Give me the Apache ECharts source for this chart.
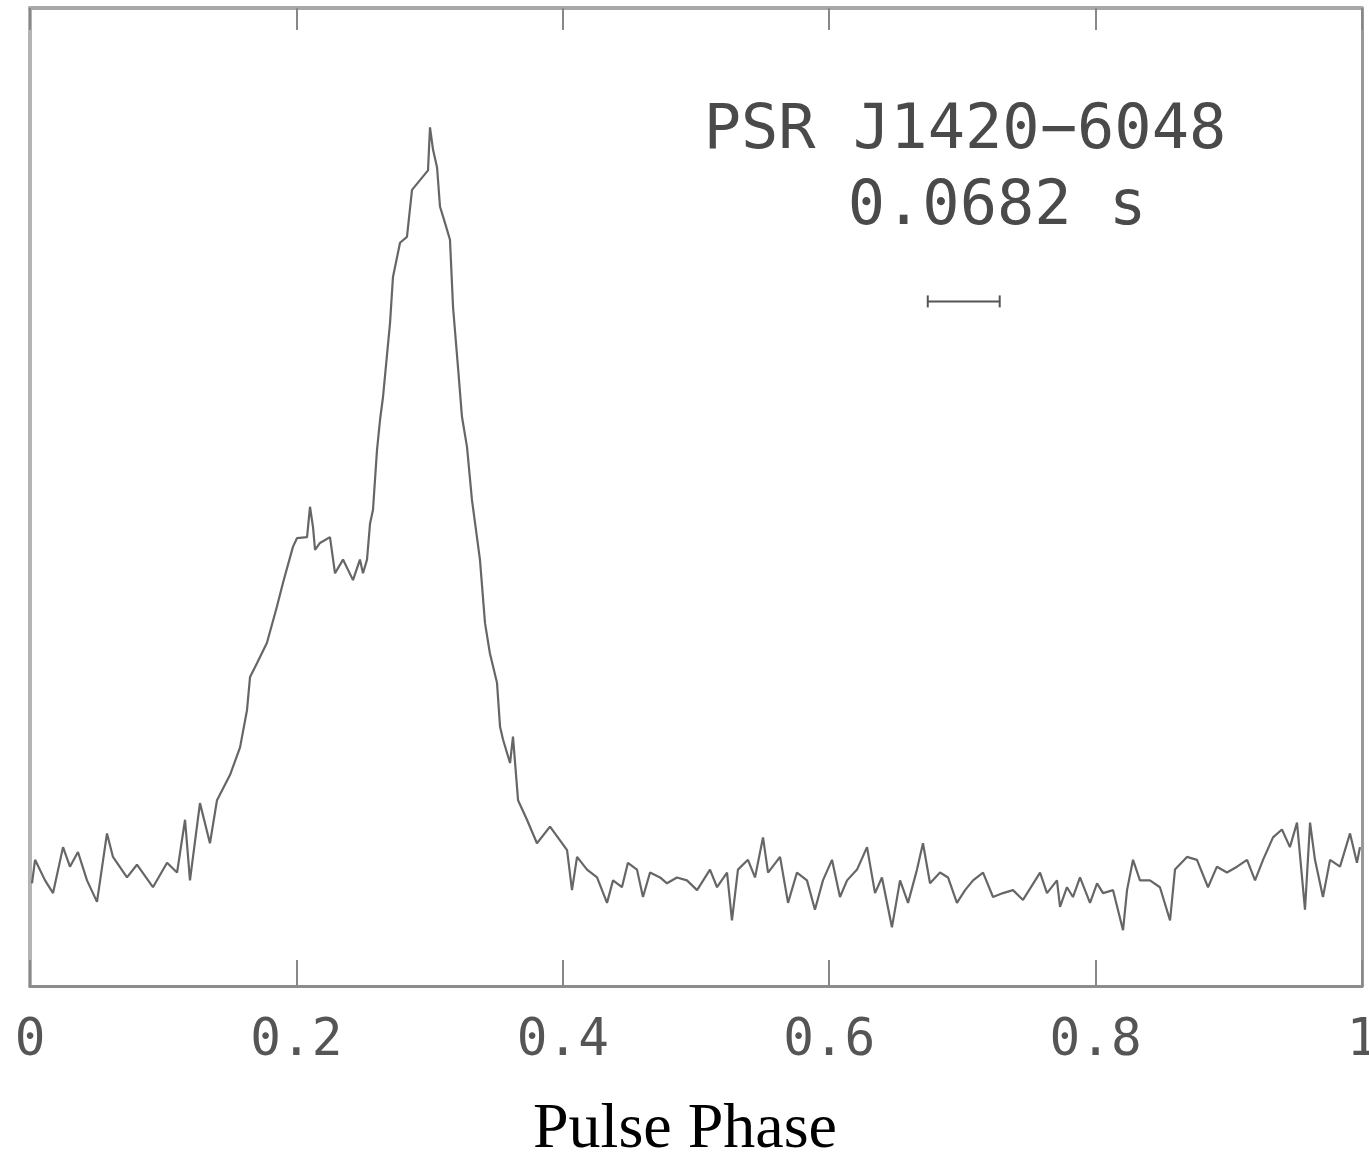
<!DOCTYPE html>
<html>
<head>
<meta charset="utf-8">
<script src="https://cdn.jsdelivr.net/npm/echarts@6/dist/echarts.min.js"></script>
<style>html,body{margin:0;padding:0;background:#fff;overflow:hidden}#c{width:1369px;height:1157px}</style>
</head>
<body>
<div id="c"></div>
<script>
const phase = [0.0015,0.0038,0.0113,0.0173,0.0248,0.0300,0.0360,0.0428,0.0503,0.0578,0.0623,0.0728,0.0803,0.0923,0.1029,0.1104,0.1164,0.1201,0.1276,0.1351,0.1404,0.1502,
0.1577,0.1629,0.1652,0.1704,0.1779,0.1854,0.1899,0.1974,0.2005,0.2080,0.2102,0.2125,0.2140,0.2177,0.2252,0.2290,0.2350,0.2425,0.2477,0.2500,0.2530,0.2553,0.2575,0.2605,0.2628,0.2650,0.2703,0.2725,0.2778,0.2830,0.2868,0.2928,0.2988,0.3003,0.3026,0.3056,0.3078,0.3116,0.3153,0.3176,0.3213,0.3243,0.3281,0.3318,0.3378,0.3416,0.3453,0.3506,0.3529,0.3551,0.3604,0.3626,0.3664,0.3731,0.3806,0.3904,0.3979,
0.4032,0.4069,0.4107,0.4182,0.4257,0.4332,0.4377,0.4444,0.4489,0.4557,0.4602,0.4655,0.4730,0.4782,0.4857,0.4932,0.5008,0.5105,0.5158,0.5233,0.5270,0.5315,0.5390,0.5443,0.5503,0.5541,0.5631,0.5691,0.5758,0.5833,0.5893,0.5953,0.6021,0.6081,0.6134,0.6209,0.6284,0.6344,0.6396,0.6471,0.6532,0.6592,0.6659,0.6704,0.6757,0.6832,0.6892,0.6959,0.7020,0.7080,0.7155,0.7230,0.7305,0.7380,0.7455,0.7583,0.7635,0.7710,0.7733,0.7785,0.7830,0.7883,0.7958,0.8011,0.8056,0.8131,0.8206,0.8236,0.8281,0.8333,0.8408,0.8483,0.8559,0.8596,0.8686,0.8761,0.8844,0.8911,0.8986,0.9062,0.9137,0.9197,0.9257,0.9332,0.9399,0.9459,0.9512,0.9572,0.9610,0.9647,0.9707,0.9760,0.9835,0.9910,0.9962,0.9985];
const flux = [10.5,12.9,10.8,9.5,14.2,12.2,13.7,10.8,8.6,15.6,13.2,11.1,12.4,10.1,12.6,11.6,17.0,10.8,18.7,14.6,19.0,21.6,
24.4,28.2,31.6,33.0,35.1,38.8,41.2,44.9,45.8,45.9,49.0,46.9,44.6,45.3,45.9,42.2,43.6,41.5,43.6,42.2,43.6,47.3,48.7,54.8,57.9,60.2,67.8,72.5,76.0,76.6,81.4,82.4,83.4,87.8,85.5,83.7,79.7,78.0,76.3,69.4,63.3,58.2,55.1,49.7,43.6,37.1,34.0,31.0,26.5,25.2,22.8,25.5,19.0,17.0,14.6,16.3,14.9,
13.9,9.8,13.2,11.9,11.1,8.5,10.8,10.1,12.6,11.9,9.1,11.6,11.1,10.5,11.1,10.8,9.8,11.9,10.1,11.6,6.7,11.9,12.9,11.1,15.2,11.6,13.2,8.5,11.6,10.8,7.8,10.8,12.9,9.1,10.8,11.9,14.2,9.5,11.1,6.0,10.8,8.5,11.9,14.6,10.5,11.6,11.1,8.5,9.8,10.8,11.6,9.1,9.5,9.8,8.8,11.6,9.5,10.8,8.1,10.1,9.1,11.1,8.5,10.5,9.5,9.8,5.7,9.8,12.9,10.8,10.8,10.1,6.7,11.9,13.2,12.9,10.1,12.2,11.6,12.2,12.9,10.8,12.9,15.2,16.0,14.2,16.7,7.8,16.7,12.9,9.1,12.9,12.2,15.6,12.6,14.2];
const errBarPhase = [0.674, 0.728];
const errBarLevel = 70.0;
const xTicks = [0, 0.2, 0.4, 0.6, 0.8, 1];
const titleLines = ['PSR J1420\u22126048', '0.0682 s'];
const xName = 'Pulse Phase';

const chart = echarts.init(document.getElementById('c'), null, {renderer: 'canvas'});
const mono = '"DejaVu Sans Mono", "Liberation Mono", monospace';
const hidden = {show: false};
chart.setOption({
  animation: false,
  backgroundColor: '#fff',
  grid: {left: 30, right: 7, top: 8, bottom: 171, containLabel: false, outerBoundsMode: 'none'},
  xAxis: [
    {type: 'value', min: xTicks[0], max: xTicks[xTicks.length - 1], interval: 0.2, position: 'bottom',
     axisLine: {show: true, onZero: false, lineStyle: {color: '#8c8c8c', width: 3}},
     axisTick: {show: true, inside: true, length: 26, lineStyle: {color: '#888', width: 2}},
     axisLabel: {show: true, margin: 30, fontFamily: mono, fontSize: 51, color: '#555'},
     splitLine: hidden},
    {type: 'value', min: xTicks[0], max: xTicks[xTicks.length - 1], interval: 0.2, position: 'top',
     axisLine: {show: true, onZero: false, lineStyle: {color: '#a8a8a8', width: 4}},
     axisTick: {show: true, inside: true, length: 22, lineStyle: {color: '#888', width: 2}},
     axisLabel: hidden, splitLine: hidden}
  ],
  yAxis: [
    {type: 'value', min: 0, max: 100, position: 'left',
     axisLine: {show: true, onZero: false, lineStyle: {color: '#b4b4b4', width: 4}},
     axisTick: hidden, axisLabel: hidden, splitLine: hidden},
    {type: 'value', min: 0, max: 100, position: 'right',
     axisLine: {show: true, onZero: false, lineStyle: {color: '#999', width: 3}},
     axisTick: hidden, axisLabel: hidden, splitLine: hidden}
  ],
  series: [
    {type: 'line', xAxisIndex: 0, yAxisIndex: 0, data: phase.map((p, i) => [p, flux[i]]), showSymbol: false, symbol: 'none',
     lineStyle: {color: '#666', width: 2.2}, z: 3},
    {type: 'line', xAxisIndex: 0, yAxisIndex: 0, data: errBarPhase.map(p => [p, errBarLevel]), symbol: 'rect', symbolSize: [2, 12], showSymbol: true,
     itemStyle: {color: '#555'}, lineStyle: {color: '#555', width: 2}}
  ],
  graphic: [
    {type: 'text', style: {text: titleLines[0], font: '400 62px ' + mono, fill: '#4a4a4a', textAlign: 'center', textVerticalAlign: 'middle'}, position: [965, 132]},
    {type: 'text', style: {text: titleLines[1], font: '400 62px ' + mono, fill: '#4a4a4a', textAlign: 'center', textVerticalAlign: 'middle'}, position: [997, 208]},
    {type: 'text', style: {text: xName, font: '400 64px "Liberation Serif", "Times New Roman", serif', fill: '#000', textAlign: 'center', textVerticalAlign: 'middle'}, position: [685, 1130]}
  ]
});
</script>
</body>
</html>
